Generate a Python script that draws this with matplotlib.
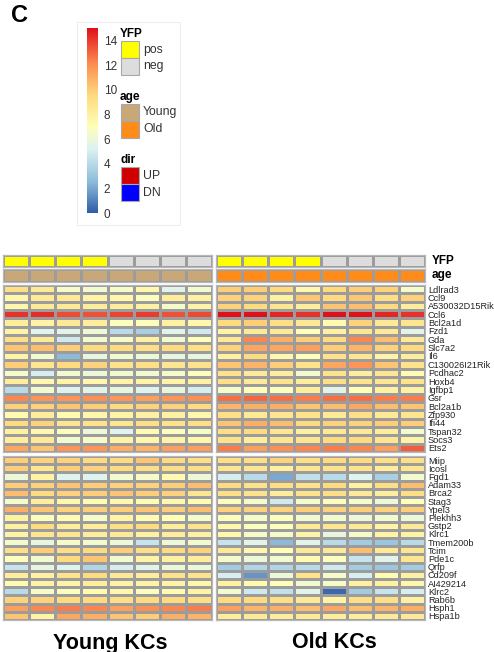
import numpy as np
import matplotlib
matplotlib.use("Agg")
import matplotlib.pyplot as plt
from matplotlib.colors import LinearSegmentedColormap, ListedColormap
from matplotlib.patches import Rectangle

plt.rcParams['font.family'] = ['Liberation Sans', 'DejaVu Sans']

W, H = 494, 652

genes_up = ["Ldlrad3", "Ccl9", "A530032D15Rik", "Ccl6", "Bcl2a1d", "Fzd1", "Gda",
            "Slc7a2", "Il6", "C130026I21Rik", "Pcdhac2", "Hoxb4", "Igfbp1", "Gsr",
            "Bcl2a1b", "Zfp930", "Ifi44", "Tspan32", "Socs3", "Ets2"]
genes_dn = ["Miip", "Icosl", "Fgd1", "Adam33", "Brca2", "Stag3", "Ypel3", "Plekhh3",
            "Gstp2", "Klrc1", "Tmem200b", "Tcim", "Pde1c", "Qrfp", "Cd209f",
            "AI429214", "Klrc2", "Rab6b", "Hsph1", "Hspa1b"]

yfp = ["pos", "pos", "pos", "pos", "neg", "neg", "neg", "neg"]

# expression, young samples (8 columns) / old samples (8 columns)
young_up = [
    [9.3, 8.5, 6.5, 6.3, 6.5, 7.5, 5.5, 6.3],
    [7.5, 8.5, 8.5, 7.8, 7.5, 6.8, 8.3, 8.0],
    [7.5, 8.5, 8.5, 8.3, 8.3, 8.0, 6.5, 7.8],
    [14.2, 14.3, 13.6, 13.5, 13.8, 14.0, 13.5, 13.7],
    [8.3, 7.8, 8.5, 8.3, 6.8, 6.8, 8.0, 7.5],
    [7.8, 5.3, 5.5, 6.2, 4.0, 3.5, 5.5, 4.8],
    [9.3, 8.5, 4.8, 6.3, 6.5, 8.0, 6.3, 7.0],
    [10.3, 10.5, 10.0, 9.5, 9.5, 9.3, 9.5, 9.3],
    [7.8, 6.3, 2.5, 5.8, 6.3, 6.0, 5.8, 5.8],
    [10.0, 8.8, 9.5, 9.8, 9.0, 9.3, 8.8, 9.0],
    [6.5, 5.0, 6.3, 6.0, 6.3, 6.3, 6.5, 6.8],
    [8.3, 7.5, 7.8, 7.5, 7.8, 7.8, 7.8, 8.0],
    [4.0, 6.3, 5.3, 5.5, 5.8, 5.3, 5.8, 5.0],
    [12.3, 11.8, 11.8, 12.0, 11.8, 11.5, 11.8, 12.0],
    [9.8, 9.8, 10.3, 10.0, 9.5, 9.8, 9.8, 9.5],
    [7.3, 8.3, 7.3, 7.5, 7.8, 8.0, 8.0, 7.5],
    [9.5, 9.8, 8.8, 9.0, 8.8, 9.3, 9.0, 9.3],
    [8.0, 7.5, 6.8, 6.0, 5.3, 7.3, 6.8, 6.5],
    [8.3, 8.5, 6.3, 6.5, 7.8, 7.5, 7.8, 7.5],
    [11.3, 10.3, 11.8, 11.8, 11.0, 10.8, 11.5, 11.5],
]
old_up = [
    [10.0, 10.0, 9.5, 7.5, 9.5, 10.0, 9.8, 6.5],
    [9.8, 9.8, 8.0, 10.2, 9.5, 10.2, 9.3, 9.8],
    [9.8, 9.5, 8.8, 8.3, 10.3, 10.5, 9.5, 8.3],
    [15.0, 15.0, 14.5, 14.2, 15.0, 15.0, 14.5, 14.2],
    [9.5, 10.0, 9.3, 8.5, 7.3, 9.8, 8.5, 8.8],
    [7.8, 8.5, 8.5, 7.0, 8.0, 8.8, 8.5, 5.5],
    [8.5, 12.3, 11.0, 10.0, 9.5, 12.3, 10.5, 8.5],
    [9.8, 11.3, 11.3, 11.5, 10.0, 10.8, 9.8, 9.5],
    [8.0, 9.5, 7.5, 7.0, 9.0, 8.8, 7.8, 8.3],
    [10.3, 10.8, 10.0, 9.0, 11.3, 11.8, 10.3, 9.0],
    [9.0, 8.5, 8.3, 6.3, 9.0, 8.3, 8.8, 7.3],
    [9.3, 8.5, 9.0, 8.3, 9.3, 9.0, 8.8, 9.0],
    [6.5, 7.0, 6.8, 8.3, 5.5, 7.0, 8.0, 8.0],
    [12.8, 13.0, 12.8, 12.5, 12.8, 12.8, 12.5, 12.5],
    [10.8, 11.0, 11.0, 10.3, 10.5, 11.3, 10.5, 10.3],
    [9.3, 8.5, 8.8, 9.0, 8.5, 9.3, 8.5, 8.8],
    [10.3, 11.0, 10.5, 9.5, 9.8, 9.8, 10.0, 10.0],
    [9.3, 9.5, 8.8, 8.0, 8.5, 8.5, 8.3, 6.3],
    [9.0, 8.3, 8.8, 8.8, 9.5, 9.5, 8.8, 7.8],
    [12.5, 11.5, 12.0, 12.3, 12.5, 12.3, 11.5, 13.2],
]
young_dn = [
    [10.0, 9.8, 9.8, 9.5, 9.5, 10.3, 9.5, 9.3],
    [10.0, 8.8, 10.0, 9.8, 9.5, 9.3, 9.3, 9.3],
    [6.0, 7.8, 5.3, 5.3, 6.3, 6.5, 7.3, 6.0],
    [10.0, 9.8, 10.3, 10.0, 9.8, 9.8, 10.0, 10.5],
    [10.5, 9.5, 9.8, 10.0, 10.3, 10.0, 9.8, 8.8],
    [6.5, 8.3, 7.5, 7.3, 7.5, 7.3, 7.5, 7.3],
    [11.0, 10.3, 9.8, 10.0, 10.0, 10.3, 10.0, 10.5],
    [8.0, 6.8, 7.3, 6.5, 7.8, 7.3, 7.0, 6.5],
    [8.0, 9.5, 8.3, 8.3, 9.3, 9.5, 8.3, 9.0],
    [7.8, 8.8, 8.8, 8.3, 8.5, 8.0, 8.3, 8.0],
    [6.3, 5.8, 6.5, 6.3, 6.0, 4.5, 6.0, 6.3],
    [9.3, 10.0, 9.3, 9.5, 10.0, 9.3, 9.5, 9.8],
    [6.8, 6.3, 9.5, 10.3, 6.3, 7.8, 8.0, 8.3],
    [4.5, 5.8, 5.3, 3.8, 5.0, 5.5, 6.0, 6.0],
    [8.3, 8.0, 9.0, 9.5, 8.5, 8.3, 9.0, 9.0],
    [7.3, 7.8, 7.8, 8.3, 7.8, 7.8, 7.8, 7.5],
    [4.0, 6.5, 6.8, 7.3, 7.5, 6.8, 7.3, 7.8],
    [9.8, 9.8, 9.5, 9.5, 9.3, 9.5, 9.5, 9.3],
    [11.5, 12.3, 12.5, 12.3, 11.5, 12.0, 12.3, 12.5],
    [10.3, 7.8, 11.3, 11.0, 10.3, 10.0, 11.0, 10.8],
]
old_dn = [
    [9.3, 9.3, 9.8, 9.3, 9.5, 9.5, 9.3, 9.3],
    [8.8, 8.8, 8.0, 8.8, 9.0, 9.0, 8.3, 8.8],
    [5.0, 4.0, 2.0, 4.3, 4.0, 5.3, 3.5, 6.3],
    [9.5, 9.0, 9.3, 9.0, 9.5, 8.0, 9.3, 10.5],
    [9.3, 9.0, 8.3, 9.0, 9.3, 8.5, 8.3, 9.3],
    [6.8, 6.5, 4.8, 6.5, 6.8, 6.5, 6.0, 7.0],
    [9.8, 9.8, 9.8, 10.0, 9.8, 10.0, 9.8, 10.0],
    [6.8, 6.5, 6.8, 6.3, 6.3, 6.0, 6.3, 6.0],
    [7.5, 6.8, 6.8, 8.5, 8.8, 8.5, 7.8, 8.5],
    [7.5, 6.5, 6.5, 7.8, 5.8, 6.5, 7.8, 7.8],
    [4.5, 5.5, 2.5, 5.5, 4.0, 3.3, 3.0, 4.0],
    [8.5, 7.5, 7.0, 8.5, 8.5, 10.5, 8.5, 8.8],
    [6.5, 6.0, 6.3, 7.3, 6.8, 4.5, 5.5, 8.8],
    [3.3, 3.8, 3.8, 4.0, 4.8, 3.3, 3.0, 3.3],
    [5.0, 1.5, 6.0, 9.0, 6.5, 5.0, 7.3, 8.0],
    [8.0, 7.3, 7.0, 6.3, 6.5, 8.0, 8.0, 7.5],
    [6.3, 4.8, 4.3, 5.5, 0.3, 3.3, 4.5, 5.0],
    [9.5, 9.5, 9.3, 8.5, 7.8, 9.3, 9.3, 8.0],
    [11.5, 10.8, 11.0, 10.5, 11.3, 10.5, 10.8, 11.0],
    [8.3, 8.5, 8.3, 8.5, 8.3, 8.3, 8.5, 8.5],
]

cmap = LinearSegmentedColormap.from_list("heat", [
    (0.0, '#2F5DA8'), (2.5 / 15, '#8CBCDA'), (5.2 / 15, '#DDF2F2'),
    (7.0 / 15, '#FFFFB8'), (9.5 / 15, '#FEDC80'), (12.2 / 15, '#FC8A50'),
    (1.0, '#E0101A')])
yfp_colors = {"pos": "#FFFF00", "neg": "#DDDDDD"}
age_colors = {"Young": "#C8A878", "Old": "#FF8C1A"}
dir_colors = {"UP": "#D00000", "DN": "#0000FF"}
grid_col = '#9C9C9C'


def box(x0, y0, x1, y1):
    return [x0 / W, 1 - y1 / H, (x1 - x0) / W, (y1 - y0) / H]


def clean(ax):
    ax.set_xticks([])
    ax.set_yticks([])
    for s in ax.spines.values():
        s.set_color('#B8B8B8')
        s.set_linewidth(0.9)


fig = plt.figure(figsize=(W / 100, H / 100), dpi=100)

# legend panel (behind everything)
fig.patches.append(Rectangle((77 / W, 1 - 225 / H), 103 / W, 203 / H,
                             transform=fig.transFigure, facecolor='white',
                             edgecolor='#EEEEEE', linewidth=0.8, zorder=-5))

xs = {"Young": (3, 212), "Old": (216, 425)}
blocks = {("Young", "up"): young_up, ("Old", "up"): old_up,
          ("Young", "dn"): young_dn, ("Old", "dn"): old_dn}
ys = {"up": (285, 452), "dn": (456, 620)}

for (age, d), vals in blocks.items():
    x0, x1 = xs[age]
    y0, y1 = ys[d]
    ax = fig.add_axes(box(x0, y0, x1, y1))
    ax.pcolormesh(np.array(vals), cmap=cmap, vmin=0, vmax=15,
                  edgecolors=grid_col, linewidth=0.75)
    ax.set_xlim(0, 8)
    ax.set_ylim(20, 0)
    clean(ax)
    if age == "Old":
        genes = genes_up if d == "up" else genes_dn
        ax.yaxis.tick_right()
        ax.set_yticks(np.arange(len(genes)) + 0.5)
        ax.set_yticklabels(genes, fontsize=6.6, color='#222222')
        ax.tick_params(axis='y', length=0, pad=2)

# annotation rows
for age in ["Young", "Old"]:
    x0, x1 = xs[age]
    ax = fig.add_axes(box(x0, 255, x1, 267))
    cols = [yfp_colors[v] for v in yfp]
    ax.pcolormesh(np.arange(8).reshape(1, -1), cmap=ListedColormap(cols),
                  edgecolors=grid_col, linewidth=0.75)
    clean(ax)
    if age == "Old":
        ax.text(1.03, 0.5, "YFP", transform=ax.transAxes, ha='left', va='center',
                fontsize=8.5, fontweight='bold')
    ax = fig.add_axes(box(x0, 269, x1, 282))
    ax.pcolormesh(np.zeros((1, 8)), cmap=ListedColormap([age_colors[age]]),
                  edgecolors=grid_col, linewidth=0.75)
    clean(ax)
    if age == "Old":
        ax.text(1.03, 0.5, "age", transform=ax.transAxes, ha='left', va='center',
                fontsize=8.5, fontweight='bold')

fig.text(110 / W, 1 - 644 / H, "Young KCs", ha='center', va='center',
         fontsize=15.5, fontweight='bold')
fig.text(334 / W, 1 - 642 / H, "Old KCs", ha='center', va='center',
         fontsize=15.5, fontweight='bold')
fig.text(11 / W, 1 - 16 / H, "C", ha='left', va='center', fontsize=17, fontweight='bold')

cax = fig.add_axes(box(87, 28, 98, 213))
grad = np.linspace(0, 15, 256).reshape(-1, 1)
cax.imshow(grad, cmap=cmap, aspect='auto', origin='lower', extent=[0, 1, 0, 15])
cax.set_xticks([])
cax.yaxis.tick_right()
cax.set_yticks(np.arange(0, 15, 2))
cax.tick_params(axis='y', length=0, pad=4, labelsize=8.5, labelcolor='#333333')
for s in cax.spines.values():
    s.set_visible(False)

legend_groups = [("YFP", 34, yfp_colors), ("age", 97, age_colors), ("dir", 160, dir_colors)]
for title, ty, colors in legend_groups:
    fig.text(120 / W, 1 - ty / H, title, ha='left', va='center', fontsize=8.5,
             fontweight='bold')
    for i, (name, c) in enumerate(colors.items()):
        top = ty + 7 + i * 17
        fig.patches.append(Rectangle((121 / W, 1 - (top + 17) / H), 18 / W, 17 / H,
                                     transform=fig.transFigure, facecolor=c,
                                     edgecolor='#A8A8A8', linewidth=0.8))
        fig.text(143 / W, 1 - (top + 8.5) / H, name, ha='left', va='center',
                 fontsize=8.8, color='#333333')

fig.savefig("out.png", dpi=100)
